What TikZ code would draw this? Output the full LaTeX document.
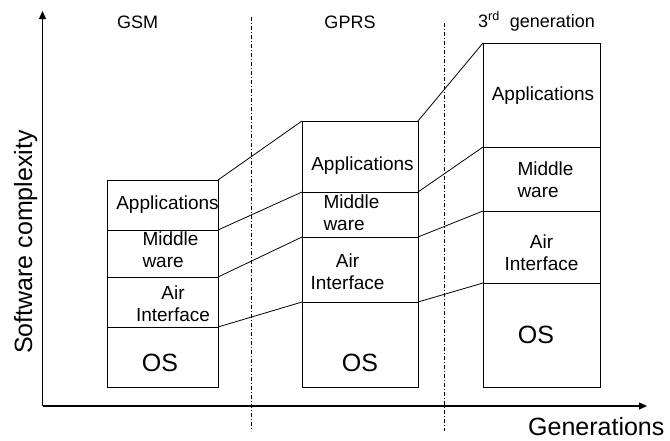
\documentclass[tikz,border=0pt]{standalone}
\usepackage{fontspec}
\setmainfont{Liberation Sans}
\usetikzlibrary{arrows.meta, positioning}
\tikzstyle{layer} = [rectangle, draw=black, line width=0.9pt, inner sep=0pt, outer sep=0pt, anchor=north west]
\tikzstyle{layertext} = [inner sep=0pt, font=\fontsize{19}{22}\selectfont]
\tikzstyle{ostext} = [inner sep=0pt, anchor=base, font=\fontsize{25}{28}\selectfont]
\tikzstyle{header} = [inner sep=0pt, anchor=base, font=\fontsize{18}{20}\selectfont]
\tikzstyle{axislabel} = [inner sep=0pt, anchor=base, font=\fontsize{25}{28}\selectfont]
\tikzstyle{link} = [line width=0.8pt, black]
\tikzstyle{axis} = [line width=1.3pt, black, -{Triangle[length=8pt, width=7pt]}]
\tikzstyle{divider} = [line width=0.7pt, black, dash pattern=on 4pt off 2pt on 1pt off 2pt]

\begin{document}
\begin{tikzpicture}[x=1pt, y=-1pt]

    \useasboundingbox (0,0) rectangle (670,440);

    % axes
    \coordinate (origin) at (42.5,406);
    \coordinate (ytip) at (42.5,11);
    \coordinate (xtip) at (647,406);
    \draw [axis] (origin) -- (ytip);
    \draw [axis] (origin) -- (xtip);
    \node (ylabel) [axislabel, rotate=90] at (32,242) {Software complexity};
    \node (xlabel) [axislabel, anchor=base west] at (528,435) {Generations};

    % generation borders
    \coordinate (div1top) at (251,17);
    \coordinate (div1bot) at (251,431);
    \coordinate (div2top) at (444,23);
    \coordinate (div2bot) at (444,431);
    \draw [divider] (div1top) -- (div1bot);
    \draw [divider] (div2top) -- (div2bot);

    \node (gsm) [header] at (137.5,28) {GSM};
    \node (gprs) [header] at (350,28) {GPRS};
    \node (third) [header, anchor=base west] at (478,27) {3\textsuperscript{rd}\hspace{10pt}generation};

    % GSM stack
    \node (gsm_app) [layer, minimum width=111pt, minimum height=50pt] at (107,180) {};
    \node (gsm_mw) [layer, minimum width=111pt, minimum height=47pt] at (107,230) {};
    \node (gsm_air) [layer, minimum width=111pt, minimum height=50pt] at (107,277) {};
    \node (gsm_os) [layer, minimum width=111pt, minimum height=60pt] at (107,327) {};

    \node (gsm_app_t) [layertext, anchor=base] at (167.5,209) {Applications};
    \node (gsm_mw_t) [layertext, align=left] at (170.5,250) {Middle\\ware};
    \node (gsm_air_t) [layertext, align=center] at (173,304) {Air\\Interface};
    \node (gsm_os_t) [ostext] at (160,371) {OS};

    % GPRS stack
    \node (gprs_app) [layer, minimum width=116pt, minimum height=71pt] at (302,121) {};
    \node (gprs_mw) [layer, minimum width=116pt, minimum height=45pt] at (302,192) {};
    \node (gprs_air) [layer, minimum width=116pt, minimum height=65pt] at (302,237) {};
    \node (gprs_os) [layer, minimum width=116pt, minimum height=85pt] at (302,302) {};

    \node (gprs_app_t) [layertext, anchor=base] at (362.5,170) {Applications};
    \node (gprs_mw_t) [layertext, align=left] at (351.5,212.5) {Middle\\ware};
    \node (gprs_air_t) [layertext, align=center] at (347.5,271.5) {Air\\Interface};
    \node (gprs_os_t) [ostext] at (360,371) {OS};

    % 3rd generation stack
    \node (third_app) [layer, minimum width=117pt, minimum height=104pt] at (483,43) {};
    \node (third_mw) [layer, minimum width=117pt, minimum height=64pt] at (483,147) {};
    \node (third_air) [layer, minimum width=117pt, minimum height=72pt] at (483,211) {};
    \node (third_os) [layer, minimum width=117pt, minimum height=104pt] at (483,283) {};

    \node (third_app_t) [layertext, anchor=base] at (543,100) {Applications};
    \node (third_mw_t) [layertext, align=left] at (545.5,179.5) {Middle\\ware};
    \node (third_air_t) [layertext, align=center] at (541.5,253) {Air\\Interface};
    \node (third_os_t) [ostext] at (536,343) {OS};

    % layer growth between generations
    \draw [link] (gsm_app.north east) -- (gprs_app.north west);
    \draw [link] (gsm_mw.north east) -- (gprs_mw.north west);
    \draw [link] (gsm_air.north east) -- (gprs_air.north west);
    \draw [link] (gsm_os.north east) -- (gprs_os.north west);
    \draw [link] (gprs_app.north east) -- (third_app.north west);
    \draw [link] (gprs_mw.north east) -- (third_mw.north west);
    \draw [link] (gprs_air.north east) -- (third_air.north west);
    \draw [link] (gprs_os.north east) -- (third_os.north west);

\end{tikzpicture}
\end{document}
